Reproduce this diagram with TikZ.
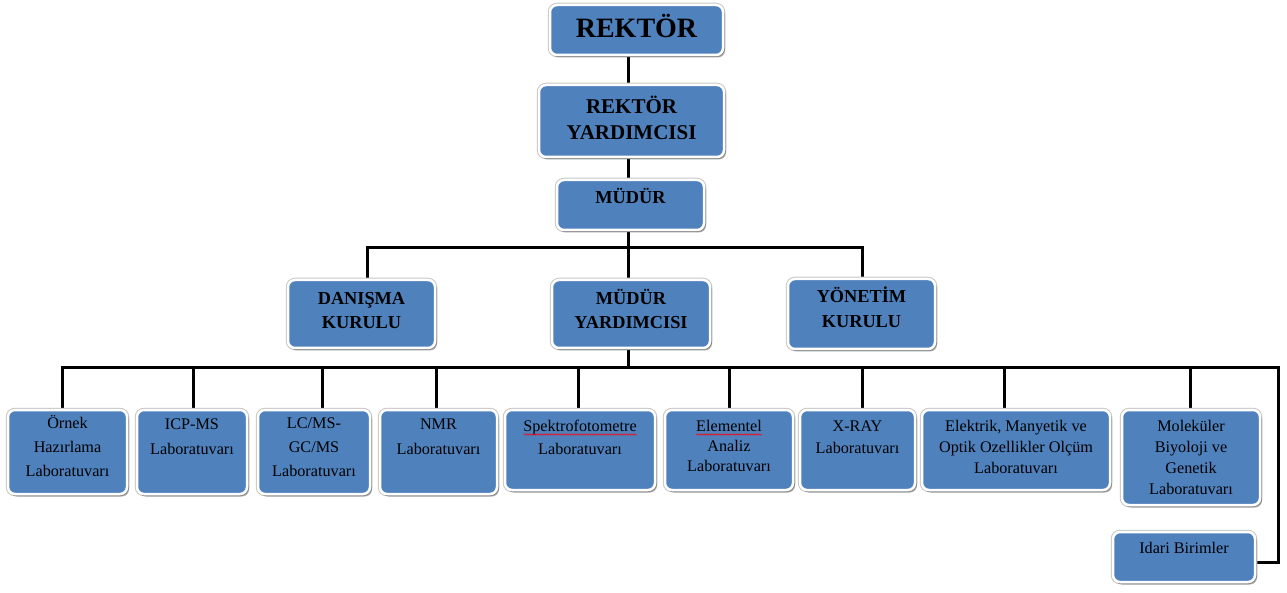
\documentclass[tikz,border=0pt]{standalone}
\usepackage{fontspec}
\setmainfont{Liberation Serif}
\usetikzlibrary{shadows,decorations.pathmorphing,calc}
\pgfdeclarelayer{back}
\pgfdeclarelayer{bg}
\pgfsetlayers{back,bg,main}
\definecolor{boxblue}{RGB}{79,129,189}
\newcommand{\bxt}[4]{\parbox[c][#2][t]{#1}{\centering\rule{0pt}{#3}#4\par}}
\tikzset{
  orgbox/.style={rectangle, rounded corners=7pt, fill=boxblue, draw=white,
    line width=2.5pt, inner sep=0pt, outer sep=0pt, text=black,
    preaction={draw=black!22, line width=4.5pt},
    drop shadow={shadow xshift=2pt, shadow yshift=-2.5pt, opacity=0.3, fill=black}},
  headA/.style={orgbox, font=\bfseries\fontsize{28}{30}\selectfont},
  headB/.style={orgbox, font=\bfseries\fontsize{21}{26}\selectfont},
  headC/.style={orgbox, font=\bfseries\fontsize{18.3}{25}\selectfont},
  labnarrow/.style={orgbox, font=\fontsize{16.2}{#1}\selectfont},
  link/.style={line width=3pt, black, line join=miter},
  spell/.style={red, line width=0.5pt, decorate, decoration={snake, amplitude=0.7pt, segment length=2.5pt}}
}
\begin{document}
\begin{tikzpicture}[x=1pt,y=-1pt]
\useasboundingbox (0,0) rectangle (1287,593);
\begin{pgfonlayer}{back}
\fill[white] (0,0) rectangle (1287,593);
\end{pgfonlayer}

\node[headA] (rek) at (636.5,30) {\bxt{173pt}{50pt}{33pt}{REKTÖR}};
\node[headB] (ry) at (631.5,121) {\bxt{185pt}{72pt}{29pt}{REKTÖR\\YARDIMCISI}};
\node[headC] (mud) at (630.5,205) {\bxt{147pt}{50pt}{24pt}{MÜDÜR}};
\node[headC] (dan) at (361.5,314) {\bxt{147pt}{68pt}{24pt}{DANIŞMA\\KURULU}};
\node[headC] (my) at (631,314) {\bxt{158pt}{68pt}{24pt}{MÜDÜR\\YARDIMCISI}};
\node[headC] (yon) at (861.5,314) {\bxt{147pt}{70pt}{24pt}{YÖNETİM\\KURULU}};

\node[labnarrow=24] (l1) at (67.5,452) {\bxt{119pt}{84pt}{18pt}{Örnek\\Hazırlama\\Laboratuvarı}};
\node[labnarrow=25] (l2) at (192,452) {\bxt{110pt}{84pt}{19pt}{ICP-MS\\Laboratuvarı}};
\node[labnarrow=24] (l3) at (314,452) {\bxt{112pt}{84pt}{18pt}{LC/MS-\\GC/MS\\Laboratuvarı}};
\node[labnarrow=25] (l4) at (438.5,452) {\bxt{117pt}{84pt}{19pt}{NMR\\Laboratuvarı}};
\node[labnarrow=23] (l5) at (580,450) {\bxt{150pt}{80pt}{21pt}{Spektrofotometre\\Laboratuvarı}};
\node[labnarrow=20] (l6) at (729,450) {\bxt{128pt}{80pt}{21pt}{Elementel\\Analiz\\Laboratuvarı}};
\node[labnarrow=22] (l7) at (857.5,450) {\bxt{115pt}{80pt}{21pt}{X-RAY\\Laboratuvarı}};
\node[labnarrow=21] (l8) at (1016,450) {\bxt{188pt}{80pt}{21pt}{Elektrik, Manyetik ve\\Optik Ozellikler Olçüm\\Laboratuvarı}};
\node[labnarrow=21] (l9) at (1191,457.5) {\bxt{138pt}{95pt}{21pt}{Moleküler\\Biyoloji ve\\Genetik\\Laboratuvarı}};
\node[labnarrow=21] (idari) at (1184,557) {\bxt{142pt}{50pt}{21pt}{Idari Birimler}};

\draw[spell] (523.5,434.5) -- (636.5,434.5);
\draw[spell] (696,434.5) -- (762,434.5);

\begin{pgfonlayer}{bg}
\coordinate (sp) at (628,0);
\draw[link] (rek.south -| sp) -- (ry.north -| sp);
\draw[link] (ry.south -| sp) -- (mud.north -| sp);
\coordinate (b1L) at (367,248);
\coordinate (b1R) at (862,248);
\draw[link] (mud.south -| sp) -- (my.north -| sp);
\draw[link] (dan.north -| b1L) -- (b1L) -- (b1R) -- (yon.north -| b1R);
\coordinate (b2L) at (62,367);
\coordinate (b2R) at (1278,367);
\draw[link] (my.south -| sp) -- (sp |- b2L);
\draw[link] (l1.north -| b2L) -- (b2L) -- (b2R) |- ([yshift=-5pt]idari.east);
\foreach \n/\x in {l2/193, l3/322, l4/436, l5/578, l6/729, l7/862, l8/1004, l9/1190}{
  \coordinate (d\n) at (\x,367);
  \draw[link] (\n.north -| d\n) -- (d\n);
}
\end{pgfonlayer}
\end{tikzpicture}
\end{document}
